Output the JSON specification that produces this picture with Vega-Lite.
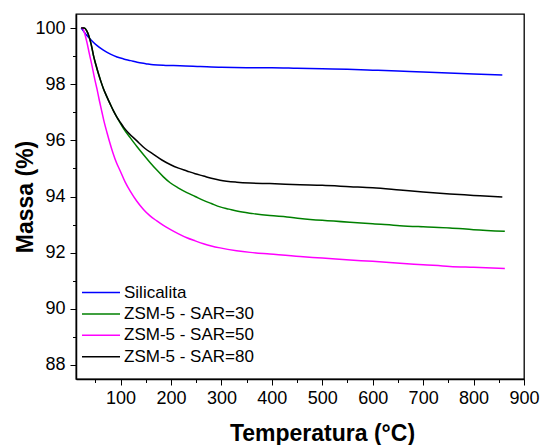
{
  "$schema": "https://vega.github.io/schema/vega-lite/v6.json",
  "autosize": {"type": "none"},
  "padding": {"left": 76, "top": 14, "right": 18, "bottom": 66},
  "width": 448,
  "height": 365,
  "background": "white",
  "config": {
    "font": "Liberation Sans",
    "view": {"stroke": "#000", "strokeWidth": 1.3}
  },
  "datasets": {
    "tga": [
      {"T": 22, "m": 100, "s": "Silicalita"},
      {"T": 27, "m": 99.88, "s": "Silicalita"},
      {"T": 33, "m": 99.74, "s": "Silicalita"},
      {"T": 43, "m": 99.55, "s": "Silicalita"},
      {"T": 53, "m": 99.38, "s": "Silicalita"},
      {"T": 66, "m": 99.21, "s": "Silicalita"},
      {"T": 80, "m": 99.07, "s": "Silicalita"},
      {"T": 93, "m": 98.97, "s": "Silicalita"},
      {"T": 106, "m": 98.9, "s": "Silicalita"},
      {"T": 120, "m": 98.84, "s": "Silicalita"},
      {"T": 133, "m": 98.78, "s": "Silicalita"},
      {"T": 150, "m": 98.73, "s": "Silicalita"},
      {"T": 165, "m": 98.69, "s": "Silicalita"},
      {"T": 190, "m": 98.67, "s": "Silicalita"},
      {"T": 218, "m": 98.66, "s": "Silicalita"},
      {"T": 258, "m": 98.63, "s": "Silicalita"},
      {"T": 300, "m": 98.6, "s": "Silicalita"},
      {"T": 350, "m": 98.59, "s": "Silicalita"},
      {"T": 400, "m": 98.59, "s": "Silicalita"},
      {"T": 450, "m": 98.57, "s": "Silicalita"},
      {"T": 500, "m": 98.55, "s": "Silicalita"},
      {"T": 550, "m": 98.53, "s": "Silicalita"},
      {"T": 600, "m": 98.5, "s": "Silicalita"},
      {"T": 650, "m": 98.47, "s": "Silicalita"},
      {"T": 700, "m": 98.43, "s": "Silicalita"},
      {"T": 750, "m": 98.4, "s": "Silicalita"},
      {"T": 800, "m": 98.36, "s": "Silicalita"},
      {"T": 857, "m": 98.33, "s": "Silicalita"},

      {"T": 22, "m": 100, "s": "ZSM-5 - SAR=30"},
      {"T": 28, "m": 100, "s": "ZSM-5 - SAR=30"},
      {"T": 33, "m": 99.9, "s": "ZSM-5 - SAR=30"},
      {"T": 37, "m": 99.73, "s": "ZSM-5 - SAR=30"},
      {"T": 42, "m": 99.4, "s": "ZSM-5 - SAR=30"},
      {"T": 46.5, "m": 99.01, "s": "ZSM-5 - SAR=30"},
      {"T": 51, "m": 98.7, "s": "ZSM-5 - SAR=30"},
      {"T": 56.4, "m": 98.36, "s": "ZSM-5 - SAR=30"},
      {"T": 61, "m": 98.1, "s": "ZSM-5 - SAR=30"},
      {"T": 66.3, "m": 97.83, "s": "ZSM-5 - SAR=30"},
      {"T": 73, "m": 97.55, "s": "ZSM-5 - SAR=30"},
      {"T": 79.6, "m": 97.29, "s": "ZSM-5 - SAR=30"},
      {"T": 86, "m": 97.05, "s": "ZSM-5 - SAR=30"},
      {"T": 93, "m": 96.82, "s": "ZSM-5 - SAR=30"},
      {"T": 100, "m": 96.6, "s": "ZSM-5 - SAR=30"},
      {"T": 106, "m": 96.42, "s": "ZSM-5 - SAR=30"},
      {"T": 119, "m": 96.1, "s": "ZSM-5 - SAR=30"},
      {"T": 132, "m": 95.79, "s": "ZSM-5 - SAR=30"},
      {"T": 145.5, "m": 95.49, "s": "ZSM-5 - SAR=30"},
      {"T": 158, "m": 95.22, "s": "ZSM-5 - SAR=30"},
      {"T": 172, "m": 94.94, "s": "ZSM-5 - SAR=30"},
      {"T": 185, "m": 94.7, "s": "ZSM-5 - SAR=30"},
      {"T": 198.4, "m": 94.49, "s": "ZSM-5 - SAR=30"},
      {"T": 215, "m": 94.3, "s": "ZSM-5 - SAR=30"},
      {"T": 231.5, "m": 94.14, "s": "ZSM-5 - SAR=30"},
      {"T": 248, "m": 94.0, "s": "ZSM-5 - SAR=30"},
      {"T": 264.4, "m": 93.86, "s": "ZSM-5 - SAR=30"},
      {"T": 280, "m": 93.75, "s": "ZSM-5 - SAR=30"},
      {"T": 297.4, "m": 93.63, "s": "ZSM-5 - SAR=30"},
      {"T": 315, "m": 93.55, "s": "ZSM-5 - SAR=30"},
      {"T": 330.5, "m": 93.48, "s": "ZSM-5 - SAR=30"},
      {"T": 363, "m": 93.39, "s": "ZSM-5 - SAR=30"},
      {"T": 396, "m": 93.32, "s": "ZSM-5 - SAR=30"},
      {"T": 430, "m": 93.27, "s": "ZSM-5 - SAR=30"},
      {"T": 456, "m": 93.22, "s": "ZSM-5 - SAR=30"},
      {"T": 500, "m": 93.15, "s": "ZSM-5 - SAR=30"},
      {"T": 555, "m": 93.08, "s": "ZSM-5 - SAR=30"},
      {"T": 600, "m": 93.03, "s": "ZSM-5 - SAR=30"},
      {"T": 654, "m": 92.96, "s": "ZSM-5 - SAR=30"},
      {"T": 700, "m": 92.92, "s": "ZSM-5 - SAR=30"},
      {"T": 753, "m": 92.88, "s": "ZSM-5 - SAR=30"},
      {"T": 800, "m": 92.82, "s": "ZSM-5 - SAR=30"},
      {"T": 862, "m": 92.76, "s": "ZSM-5 - SAR=30"},

      {"T": 22, "m": 100, "s": "ZSM-5 - SAR=50"},
      {"T": 24, "m": 100, "s": "ZSM-5 - SAR=50"},
      {"T": 29, "m": 99.8, "s": "ZSM-5 - SAR=50"},
      {"T": 33.4, "m": 99.49, "s": "ZSM-5 - SAR=50"},
      {"T": 38, "m": 99.1, "s": "ZSM-5 - SAR=50"},
      {"T": 43.4, "m": 98.66, "s": "ZSM-5 - SAR=50"},
      {"T": 48, "m": 98.25, "s": "ZSM-5 - SAR=50"},
      {"T": 53.3, "m": 97.83, "s": "ZSM-5 - SAR=50"},
      {"T": 58, "m": 97.42, "s": "ZSM-5 - SAR=50"},
      {"T": 63.2, "m": 97.0, "s": "ZSM-5 - SAR=50"},
      {"T": 68, "m": 96.62, "s": "ZSM-5 - SAR=50"},
      {"T": 73.1, "m": 96.28, "s": "ZSM-5 - SAR=50"},
      {"T": 78.2, "m": 95.95, "s": "ZSM-5 - SAR=50"},
      {"T": 85, "m": 95.55, "s": "ZSM-5 - SAR=50"},
      {"T": 92, "m": 95.2, "s": "ZSM-5 - SAR=50"},
      {"T": 99.4, "m": 94.91, "s": "ZSM-5 - SAR=50"},
      {"T": 109, "m": 94.52, "s": "ZSM-5 - SAR=50"},
      {"T": 119.2, "m": 94.19, "s": "ZSM-5 - SAR=50"},
      {"T": 132, "m": 93.84, "s": "ZSM-5 - SAR=50"},
      {"T": 145.5, "m": 93.54, "s": "ZSM-5 - SAR=50"},
      {"T": 158, "m": 93.32, "s": "ZSM-5 - SAR=50"},
      {"T": 172, "m": 93.13, "s": "ZSM-5 - SAR=50"},
      {"T": 185, "m": 92.97, "s": "ZSM-5 - SAR=50"},
      {"T": 198.4, "m": 92.83, "s": "ZSM-5 - SAR=50"},
      {"T": 215, "m": 92.67, "s": "ZSM-5 - SAR=50"},
      {"T": 231.5, "m": 92.53, "s": "ZSM-5 - SAR=50"},
      {"T": 248, "m": 92.42, "s": "ZSM-5 - SAR=50"},
      {"T": 264.4, "m": 92.32, "s": "ZSM-5 - SAR=50"},
      {"T": 280, "m": 92.24, "s": "ZSM-5 - SAR=50"},
      {"T": 297.4, "m": 92.17, "s": "ZSM-5 - SAR=50"},
      {"T": 330, "m": 92.07, "s": "ZSM-5 - SAR=50"},
      {"T": 357, "m": 92.01, "s": "ZSM-5 - SAR=50"},
      {"T": 396, "m": 91.95, "s": "ZSM-5 - SAR=50"},
      {"T": 456, "m": 91.86, "s": "ZSM-5 - SAR=50"},
      {"T": 500, "m": 91.81, "s": "ZSM-5 - SAR=50"},
      {"T": 555, "m": 91.74, "s": "ZSM-5 - SAR=50"},
      {"T": 600, "m": 91.69, "s": "ZSM-5 - SAR=50"},
      {"T": 654, "m": 91.62, "s": "ZSM-5 - SAR=50"},
      {"T": 700, "m": 91.57, "s": "ZSM-5 - SAR=50"},
      {"T": 753, "m": 91.51, "s": "ZSM-5 - SAR=50"},
      {"T": 800, "m": 91.48, "s": "ZSM-5 - SAR=50"},
      {"T": 862, "m": 91.44, "s": "ZSM-5 - SAR=50"},

      {"T": 22, "m": 100, "s": "ZSM-5 - SAR=80"},
      {"T": 28, "m": 100, "s": "ZSM-5 - SAR=80"},
      {"T": 33, "m": 99.9, "s": "ZSM-5 - SAR=80"},
      {"T": 37, "m": 99.73, "s": "ZSM-5 - SAR=80"},
      {"T": 42, "m": 99.4, "s": "ZSM-5 - SAR=80"},
      {"T": 46.5, "m": 99.01, "s": "ZSM-5 - SAR=80"},
      {"T": 51, "m": 98.7, "s": "ZSM-5 - SAR=80"},
      {"T": 56.4, "m": 98.36, "s": "ZSM-5 - SAR=80"},
      {"T": 61, "m": 98.1, "s": "ZSM-5 - SAR=80"},
      {"T": 66.3, "m": 97.83, "s": "ZSM-5 - SAR=80"},
      {"T": 73, "m": 97.55, "s": "ZSM-5 - SAR=80"},
      {"T": 79.6, "m": 97.29, "s": "ZSM-5 - SAR=80"},
      {"T": 86, "m": 97.05, "s": "ZSM-5 - SAR=80"},
      {"T": 93, "m": 96.82, "s": "ZSM-5 - SAR=80"},
      {"T": 100, "m": 96.63, "s": "ZSM-5 - SAR=80"},
      {"T": 106, "m": 96.47, "s": "ZSM-5 - SAR=80"},
      {"T": 115, "m": 96.28, "s": "ZSM-5 - SAR=80"},
      {"T": 132.5, "m": 95.98, "s": "ZSM-5 - SAR=80"},
      {"T": 148, "m": 95.72, "s": "ZSM-5 - SAR=80"},
      {"T": 165.4, "m": 95.5, "s": "ZSM-5 - SAR=80"},
      {"T": 182, "m": 95.3, "s": "ZSM-5 - SAR=80"},
      {"T": 198.4, "m": 95.14, "s": "ZSM-5 - SAR=80"},
      {"T": 215, "m": 95.01, "s": "ZSM-5 - SAR=80"},
      {"T": 231.5, "m": 94.91, "s": "ZSM-5 - SAR=80"},
      {"T": 248, "m": 94.81, "s": "ZSM-5 - SAR=80"},
      {"T": 264.4, "m": 94.73, "s": "ZSM-5 - SAR=80"},
      {"T": 280, "m": 94.65, "s": "ZSM-5 - SAR=80"},
      {"T": 297.4, "m": 94.58, "s": "ZSM-5 - SAR=80"},
      {"T": 330.5, "m": 94.51, "s": "ZSM-5 - SAR=80"},
      {"T": 357, "m": 94.48, "s": "ZSM-5 - SAR=80"},
      {"T": 396, "m": 94.46, "s": "ZSM-5 - SAR=80"},
      {"T": 456, "m": 94.42, "s": "ZSM-5 - SAR=80"},
      {"T": 500, "m": 94.4, "s": "ZSM-5 - SAR=80"},
      {"T": 555, "m": 94.35, "s": "ZSM-5 - SAR=80"},
      {"T": 600, "m": 94.31, "s": "ZSM-5 - SAR=80"},
      {"T": 654, "m": 94.23, "s": "ZSM-5 - SAR=80"},
      {"T": 700, "m": 94.16, "s": "ZSM-5 - SAR=80"},
      {"T": 753, "m": 94.09, "s": "ZSM-5 - SAR=80"},
      {"T": 800, "m": 94.04, "s": "ZSM-5 - SAR=80"},
      {"T": 857, "m": 93.98, "s": "ZSM-5 - SAR=80"}
    ]
  },
  "data": {"name": "tga"},
  "resolve": {"axis": {"x": "independent", "y": "independent"}},
  "layer": [
    {
      "mark": {"type": "line", "opacity": 0},
      "encoding": {
        "x": {
          "field": "T", "type": "quantitative",
          "scale": {"domain": [11.7, 900], "nice": false, "zero": false},
          "axis": {
            "orient": "bottom", "values": [50, 150, 250, 350, 450, 550, 650, 750, 850],
            "labels": false, "domain": false, "grid": false, "title": null,
            "tickSize": 3.5, "tickColor": "#000", "tickWidth": 1
          }
        },
        "y": {
          "field": "m", "type": "quantitative",
          "scale": {"domain": [87.5, 100.5], "nice": false, "zero": false},
          "axis": {
            "orient": "left", "values": [89, 91, 93, 95, 97, 99],
            "labels": false, "domain": false, "grid": false, "title": null,
            "tickSize": 3.5, "tickColor": "#000", "tickWidth": 1
          }
        },
        "detail": {"field": "s"}
      }
    },
    {
      "mark": {"type": "line", "strokeWidth": 1.5, "interpolate": "monotone"},
      "encoding": {
        "x": {
          "field": "T", "type": "quantitative",
          "scale": {"domain": [11.7, 900], "nice": false, "zero": false},
          "axis": {
            "orient": "bottom", "values": [100, 200, 300, 400, 500, 600, 700, 800, 900],
            "grid": false, "domainColor": "#000", "domainWidth": 1.5,
            "tickColor": "#000", "tickWidth": 1, "tickSize": 6,
            "labelFont": "Liberation Sans", "labelFontSize": 18, "labelColor": "#000",
            "labelPadding": 4, "labelFlush": false,
            "title": "Temperatura (°C)", "titleFont": "Liberation Sans",
            "titleFontSize": 23, "titleFontWeight": "bold", "titleColor": "#000",
            "titleBaseline": "alphabetic", "titleX": 246, "titleY": 61, "titleAnchor": "middle"
          }
        },
        "y": {
          "field": "m", "type": "quantitative",
          "scale": {"domain": [87.5, 100.5], "nice": false, "zero": false},
          "axis": {
            "orient": "left", "values": [88, 90, 92, 94, 96, 98, 100],
            "grid": false, "domainColor": "#000", "domainWidth": 1.5,
            "tickColor": "#000", "tickWidth": 1, "tickSize": 6,
            "labelFont": "Liberation Sans", "labelFontSize": 18, "labelColor": "#000",
            "labelPadding": 5, "labelFlush": false,
            "title": "Massa (%)", "titleFont": "Liberation Sans",
            "titleFontSize": 23, "titleFontWeight": "bold", "titleColor": "#000",
            "titleBaseline": "alphabetic", "titleX": -44, "titleY": 182.5, "titleAnchor": "middle", "titleAngle": -90
          }
        },
        "color": {
          "field": "s", "type": "nominal",
          "scale": {
            "domain": ["Silicalita", "ZSM-5 - SAR=30", "ZSM-5 - SAR=50", "ZSM-5 - SAR=80"],
            "range": ["#0000FF", "#008000", "#FF00FF", "#000000"]
          },
          "legend": {
            "orient": "none", "legendX": 5, "legendY": 268,
            "title": null, "symbolType": "M-1,0H3", "symbolSize": 361,
            "symbolStrokeWidth": 1.5, "symbolFillColor": "transparent", "labelFont": "Liberation Sans",
            "labelFontSize": 17, "labelColor": "#000", "labelOffset": 22,
            "rowPadding": 2.4, "padding": 0
          }
        }
      }
    }
  ]
}
